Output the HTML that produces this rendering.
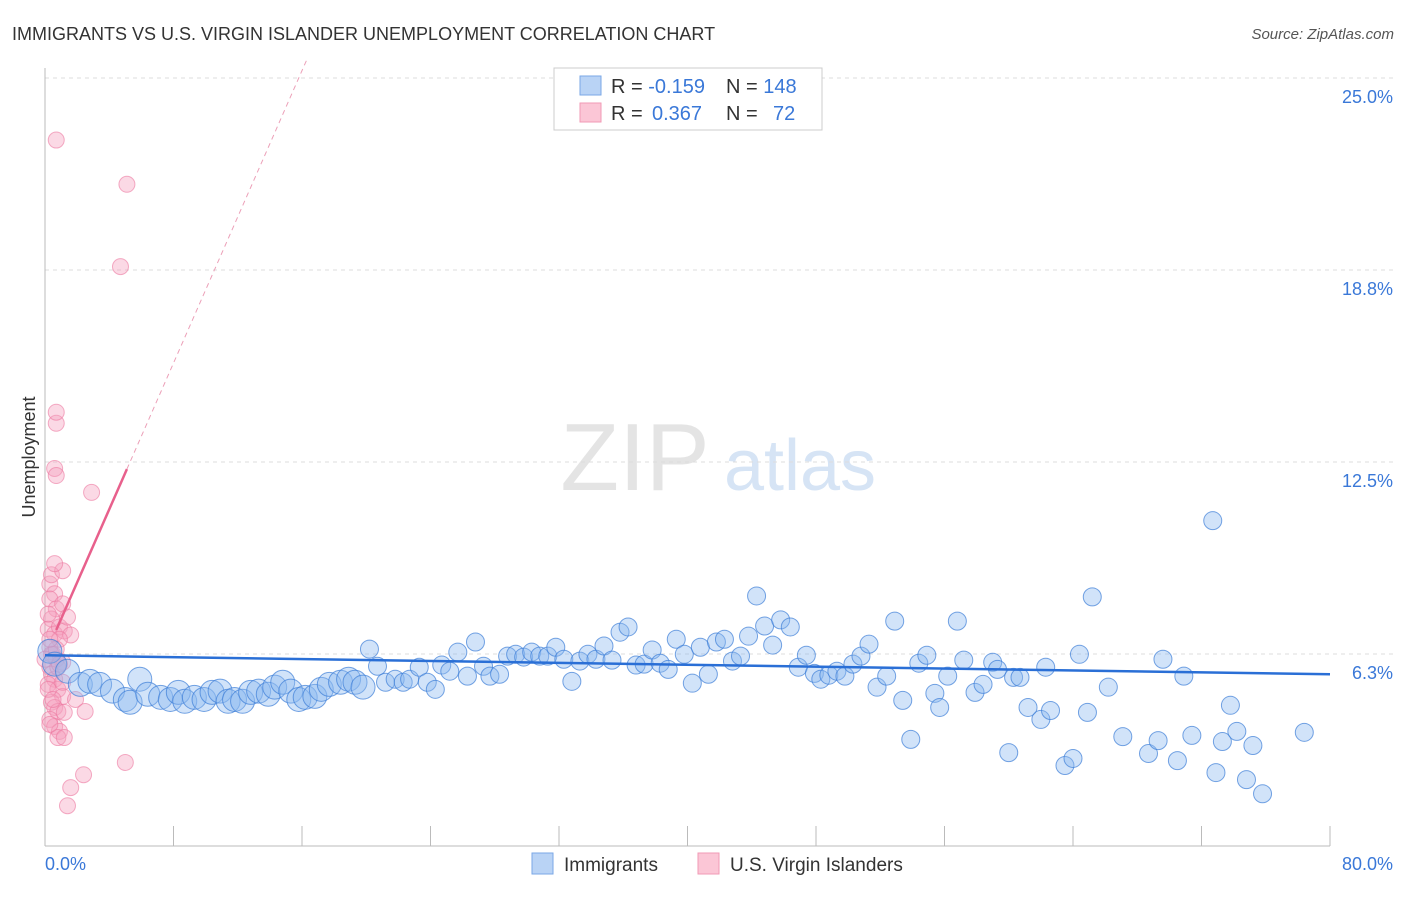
<!DOCTYPE html>
<html><head><meta charset="utf-8"><style>
body{margin:0;background:#fff;font-family:"Liberation Sans",sans-serif;}
svg text{font-family:"Liberation Sans",sans-serif;}
</style></head><body>
<svg id="chart" width="1406" height="892">
<text x="12" y="40" font-size="18" fill="#333">IMMIGRANTS VS U.S. VIRGIN ISLANDER UNEMPLOYMENT CORRELATION CHART</text>
<text x="1394" y="39" font-size="15" fill="#555" font-style="italic" text-anchor="end">Source: ZipAtlas.com</text>
<text x="35" y="457" font-size="18" fill="#333" text-anchor="middle" transform="rotate(-90 35 457)">Unemployment</text>
<g><text x="635" y="490" font-size="96" fill="#e4e4e4" font-family="Liberation Serif" text-anchor="middle">ZIP</text><text x="800" y="490" font-size="72" fill="#d6e4f5" text-anchor="middle">atlas</text></g>
<g id="grid"></g><g id="axes"></g><g id="pink"></g><g id="blue"></g><g id="lines"></g>
<g>
<rect x="554" y="68" width="268" height="62" fill="#fff" stroke="#ccc"/>
<rect x="580" y="76" width="21" height="19" fill="#b9d3f5" stroke="#7aa7e6"/>
<rect x="580" y="103" width="21" height="19" fill="#fbc6d6" stroke="#f19ab5"/>
<text x="611" y="93" font-size="20" fill="#333">R = <tspan fill="#3a78d8">-0.159</tspan><tspan x="726">N = </tspan><tspan fill="#3a78d8">148</tspan></text>
<text x="611" y="120" font-size="20" fill="#333">R = <tspan fill="#3a78d8" x="652">0.367</tspan><tspan x="726">N = </tspan><tspan fill="#3a78d8" x="773">72</tspan></text>
</g>
<g>
<rect x="532" y="853" width="21" height="21" fill="#b9d3f5" stroke="#7aa7e6"/>
<text x="564" y="871" font-size="19" fill="#333">Immigrants</text>
<rect x="698" y="853" width="21" height="21" fill="#fbc6d6" stroke="#f19ab5"/>
<text x="730" y="871" font-size="19" fill="#333">U.S. Virgin Islanders</text>
</g>
</svg>
<script>
const yTicks=[6.25,12.5,18.75,25];
const yTickLabels=["6.3%","12.5%","18.8%","25.0%"];
const xTickVals=[0,8,16,24,32,40,48,56,64,72,80];
const blueX=[0.3,0.6,1.4,2.2,2.8,3.4,4.2,5.0,5.3,5.9,6.4,7.2,7.8,8.3,8.7,9.3,9.9,10.4,10.9,11.4,11.8,12.3,12.8,13.3,13.9,14.3,14.8,15.3,15.8,16.2,16.8,17.2,17.7,18.4,18.9,19.3,19.8,20.2,20.7,21.2,21.8,22.3,22.7,23.3,23.8,24.3,24.7,25.2,25.7,26.3,26.8,27.3,27.7,28.3,28.8,29.3,29.8,30.3,30.8,31.3,31.8,32.3,32.8,33.3,33.8,34.3,34.8,35.3,35.8,36.3,36.8,37.3,37.8,38.3,38.8,39.3,39.8,40.3,40.8,41.3,41.8,42.3,42.8,43.3,43.8,44.3,44.8,45.3,45.8,46.4,46.9,47.4,47.9,48.3,48.8,49.3,49.8,50.3,50.8,51.3,51.8,52.4,52.9,53.4,53.9,54.4,54.9,55.4,55.7,56.2,56.8,57.2,57.9,58.4,59.0,59.3,60.0,60.3,60.7,61.2,62.0,62.3,62.6,63.5,64.0,64.4,64.9,65.2,66.2,67.1,68.7,69.3,69.6,70.5,70.9,71.4,72.7,72.9,73.3,73.8,74.2,74.8,75.2,75.8,78.4];
const blueY=[6.34,5.92,5.69,5.26,5.36,5.26,5.04,4.77,4.68,5.43,4.94,4.84,4.77,5.0,4.71,4.84,4.77,5.0,5.04,4.71,4.77,4.71,5.0,5.04,4.94,5.17,5.33,5.04,4.77,4.84,4.87,5.1,5.26,5.33,5.43,5.33,5.17,6.41,5.85,5.33,5.43,5.33,5.43,5.82,5.33,5.1,5.89,5.69,6.31,5.53,6.64,5.85,5.53,5.59,6.18,6.24,6.15,6.31,6.18,6.18,6.47,6.08,5.36,6.02,6.24,6.08,6.51,6.05,6.96,7.13,5.89,5.92,6.38,5.95,5.75,6.73,6.24,5.3,6.47,5.59,6.64,6.73,6.02,6.18,6.83,8.14,7.16,6.54,7.36,7.13,5.82,6.21,5.62,5.43,5.56,5.69,5.53,5.92,6.18,6.57,5.17,5.53,7.32,4.74,3.47,5.95,6.21,4.97,4.51,5.53,7.32,6.05,5.0,5.26,5.98,5.75,3.04,5.49,5.49,4.51,4.12,5.82,4.41,2.62,2.85,6.24,4.35,8.11,5.17,3.56,3.01,3.43,6.08,2.78,5.53,3.6,10.59,2.39,3.4,4.58,3.73,2.16,3.27,1.7,3.7];
const pinkX=[0.3,0.4,0.6,0.3,0.7,0.4,0.2,0.6,0.9,1.2,1.6,0.9,0.3,0.5,0.7,1.1,0.3,0.4,0.6,0.2,0.8,1.1,0.4,0.6,0.8,1.2,0.3,0.6,0.9,0.8,1.2,1.9,2.5,1.1,0.7,0.7,0.6,0.7,2.9,4.7,5.1,5.0,2.4,1.6,1.4,0.3,0.6,0.2,1.1,1.4,0.4,0.0,0.8,0.2,0.5,1.1,0.7,0.9,0.3,0.7];
const pinkY=[8.53,8.83,8.21,8.04,7.72,7.39,7.06,6.9,7.13,7.0,6.87,6.73,6.47,6.24,6.08,5.98,5.82,5.59,5.43,5.26,5.1,4.87,4.68,4.51,4.38,4.35,4.12,3.89,3.73,3.53,3.53,4.77,4.38,8.96,22.98,13.76,12.29,12.06,11.51,18.86,21.54,2.72,2.32,1.9,1.31,3.96,9.19,7.55,7.88,7.45,6.24,6.08,5.82,5.1,4.77,5.33,6.41,5.92,6.73,14.12];
const blueTrend=[6.21,5.59];
const pinkSlope=1.19, pinkIntercept=6.2;
const X=v=>45+v*16.0625, Y=v=>846-v*30.72;
const NS='http://www.w3.org/2000/svg';
function mk(tag,attrs,parent){const e=document.createElementNS(NS,tag);for(const k in attrs)e.setAttribute(k,attrs[k]);document.getElementById(parent).appendChild(e);return e;}
yTicks.forEach((t,i)=>{
 const g=mk('line',{x1:45,x2:1393,y1:Y(t),y2:Y(t),stroke:'#ddd','stroke-dasharray':'4,4'},'grid');
 
 
 const l=mk('text',{x:1393,y:Y(t)+25,'font-size':18,fill:'#3a78d8','text-anchor':'end'},'grid');
 l.textContent=yTickLabels[i];
 
 
});
const ax=mk('line',{x1:45,x2:1330,y1:846,y2:846,stroke:'#bbb'},'axes');


const ay=mk('line',{x1:45,x2:45,y1:68,y2:846,stroke:'#bbb'},'axes');


xTickVals.forEach(t=>{
 const tk=mk('line',{x1:X(t),x2:X(t),y1:826,y2:846,stroke:'#bbb'},'axes');
 
 
});
const xl0=mk('text',{x:45,y:870,'font-size':18,fill:'#3a78d8'},'axes');xl0.textContent='0.0%';


const xl1=mk('text',{x:1393,y:870,'font-size':18,fill:'#3a78d8','text-anchor':'end'},'axes');xl1.textContent='80.0%';


pinkX.forEach((x,i)=>{
 const c=mk('circle',{cx:X(x),cy:Y(pinkY[i]),r:8,fill:'rgba(246,160,190,0.4)',stroke:'rgba(236,120,160,0.6)'},'pink');
 
 
});
blueX.forEach((x,i)=>{
 const c=mk('circle',{cx:X(x),cy:Y(blueY[i]),r:x<20?12:9,fill:'rgba(140,185,240,0.4)',stroke:'rgba(60,125,215,0.7)'},'blue');
 
 
});
const bt=mk('line',{x1:X(0),x2:X(80),y1:Y(blueTrend[0]),y2:Y(blueTrend[1]),stroke:'#2a6fd6','stroke-width':2.5},'lines');


const ps=mk('line',{x1:X(0.7),x2:X(5.1),y1:Y(pinkIntercept+pinkSlope*0.7),y2:Y(pinkIntercept+pinkSlope*5.1),stroke:'#e8608c','stroke-width':2.5},'lines');


const xe=(25.6-pinkIntercept)/pinkSlope;
const pd=mk('line',{x1:X(5.1),x2:X(xe),y1:Y(pinkIntercept+pinkSlope*5.1),y2:Y(25.6),stroke:'#eca0b8','stroke-width':1,'stroke-dasharray':'5,4'},'lines');


</script>
</body></html>
